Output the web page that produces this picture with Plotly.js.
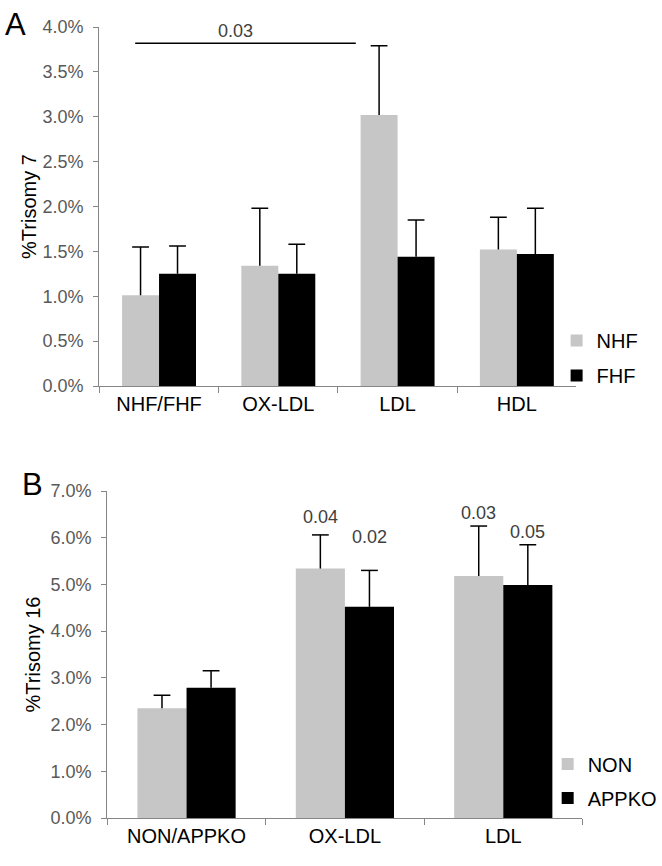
<!DOCTYPE html>
<html>
<head>
<meta charset="utf-8">
<script src="https://cdn.plot.ly/plotly-3.0.1.min.js"></script>
<style>html,body{margin:0;padding:0;background:#fff}</style>
</head>
<body>
<div id="chart" style="width:662px;height:866px"></div>
<script>
// panel A - trisomy 7 (percent)
var groupsA = ['NHF/FHF', 'OX-LDL', 'LDL', 'HDL'];
var nhf = [1.01, 1.34, 3.02, 1.52];
var nhfErr = [0.54, 0.64, 0.77, 0.36];
var fhf = [1.25, 1.25, 1.44, 1.47];
var fhfErr = [0.31, 0.33, 0.41, 0.51];

// panel B - trisomy 16 (percent)
var groupsB = ['NON/APPKO', 'OX-LDL', 'LDL'];
var non = [2.35, 5.34, 5.18];
var nonErr = [0.28, 0.72, 1.07];
var appko = [2.79, 4.52, 4.99];
var appkoErr = [0.36, 0.78, 0.86];

var pNon = ['', '0.04', '0.03'];
var pAppko = ['', '0.02', '0.05'];

var GRAY = '#C6C6C6';
var FONT = 'Liberation Sans, Arial, sans-serif';

function zeros(n) { var z = []; for (var i = 0; i < n; i++) z.push(0); return z; }

// plus-only error bar: a cap marker at value+err with a line hanging down to the bar top
function errBar(x, y, err, group, xa, ya) {
    var tops = y.map(function(v, i) { return v + err[i]; });
    return {
        type: 'scatter', mode: 'markers', x: x, y: tops, xaxis: xa, yaxis: ya,
        offsetgroup: group, showlegend: false, hoverinfo: 'skip',
        marker: {symbol: 'line-ew', size: 12, color: '#000', line: {color: '#000', width: 1.5}},
        error_y: {type: 'data', symmetric: false, array: zeros(err.length), arrayminus: err,
                  color: '#000', thickness: 1.5, width: 0}
    };
}

function bars(x, y, name, color, group, xa, ya, legend) {
    return {
        type: 'bar', x: x, y: y, name: name, xaxis: xa, yaxis: ya,
        offsetgroup: group, legendgroup: name, legend: legend,
        marker: {color: color}
    };
}

var traces = [
    bars(groupsA, nhf, 'NHF', GRAY, 'g', 'x', 'y', 'legend'),
    bars(groupsA, fhf, 'FHF', '#000', 'k', 'x', 'y', 'legend'),
    errBar(groupsA, nhf, nhfErr, 'g', 'x', 'y'),
    errBar(groupsA, fhf, fhfErr, 'k', 'x', 'y'),
    bars(groupsB, non, 'NON', GRAY, 'g', 'x2', 'y2', 'legend2'),
    bars(groupsB, appko, 'APPKO', '#000', 'k', 'x2', 'y2', 'legend2'),
    errBar(groupsB, non, nonErr, 'g', 'x2', 'y2'),
    errBar(groupsB, appko, appkoErr, 'k', 'x2', 'y2')
];

var W = 662, H = 866;
function px(v) { return v / W; }
function py(v) { return 1 - v / H; }

var xCommon = {
    type: 'category', showline: true, linecolor: '#868686', linewidth: 1.3,
    ticks: 'outside', tickson: 'boundaries', ticklen: 6, tickcolor: '#868686',
    showgrid: false, zeroline: false, fixedrange: true,
    tickfont: {family: FONT, size: 20, color: '#000'}
};
function yAxis(range, title, dom) {
    return {
        range: range, dtick: range[1] > 5 ? 1 : 0.5, tickformat: '.1f', ticksuffix: '%',
        domain: dom, showline: true, linecolor: '#868686', linewidth: 1.3,
        ticks: 'outside', ticklen: 5, tickcolor: '#868686', ticklabelstandoff: 6,
        showgrid: false, zeroline: false, fixedrange: true,
        tickfont: {family: FONT, size: 18, color: '#595959'},
        title: {text: title, font: {family: FONT, size: 20, color: '#000'}}
    };
}

var annotations = [
    {xref: 'paper', yref: 'paper', x: px(3), y: py(5), xanchor: 'left', yanchor: 'top',
     text: 'A', showarrow: false, font: {family: FONT, size: 31, color: '#000'}},
    {xref: 'paper', yref: 'paper', x: px(20), y: py(465), xanchor: 'left', yanchor: 'top',
     text: 'B', showarrow: false, font: {family: FONT, size: 31, color: '#000'}},
    {xref: 'x', yref: 'y', x: 0.64, y: 3.95, yanchor: 'middle', text: '0.03', showarrow: false,
     font: {family: FONT, size: 18, color: '#404040'}}
];
var pY = {'0.04': 6.45, '0.02': 6.02, '0.03': 6.53, '0.05': 6.13};
groupsB.forEach(function(g, i) {
    if (pNon[i]) annotations.push({xref: 'x2', yref: 'y2', x: g, y: pY[pNon[i]], xshift: -24.5,
        yanchor: 'middle', text: pNon[i], showarrow: false, font: {family: FONT, size: 18, color: '#404040'}});
    if (pAppko[i]) annotations.push({xref: 'x2', yref: 'y2', x: g, y: pY[pAppko[i]], xshift: 24.5,
        yanchor: 'middle', text: pAppko[i], showarrow: false, font: {family: FONT, size: 18, color: '#404040'}});
});

var layout = {
    width: W, height: H,
    margin: {l: 0, r: 0, t: 0, b: 0},
    paper_bgcolor: '#fff', plot_bgcolor: '#fff',
    barmode: 'group', bargap: 0.38, bargroupgap: 0,
    scattermode: 'group', scattergap: 0.38,
    font: {family: FONT},
    xaxis: Object.assign({}, xCommon, {domain: [px(100), px(580)], anchor: 'y'}),
    yaxis: yAxis([0, 4], '%Trisomy 7', [py(386), py(27)]),
    xaxis2: Object.assign({}, xCommon, {domain: [px(108), px(586)], anchor: 'y2'}),
    yaxis2: Object.assign(yAxis([0, 7], '%Trisomy 16', [py(818), py(491)]),
                          {anchor: 'x2', title: {text: '%Trisomy 16', standoff: 4,
                           font: {family: FONT, size: 20, color: '#000'}}}),
    legend: {x: px(560), y: py(358), xanchor: 'left', yanchor: 'middle', tracegroupgap: 6,
             font: {family: FONT, size: 20, color: '#000'}, bgcolor: 'rgba(0,0,0,0)'},
    legend2: {x: px(551), y: py(781), xanchor: 'left', yanchor: 'middle', tracegroupgap: 5,
              font: {family: FONT, size: 20, color: '#000'}, bgcolor: 'rgba(0,0,0,0)'},
    shapes: [
        {type: 'line', xref: 'x', yref: 'y', x0: -0.2, x1: 1.65, y0: 3.82, y1: 3.82,
         line: {color: '#000', width: 1.5}}
    ],
    annotations: annotations,
    showlegend: true
};

Plotly.newPlot('chart', traces, layout, {displayModeBar: false, staticPlot: true});
</script>
</body>
</html>
